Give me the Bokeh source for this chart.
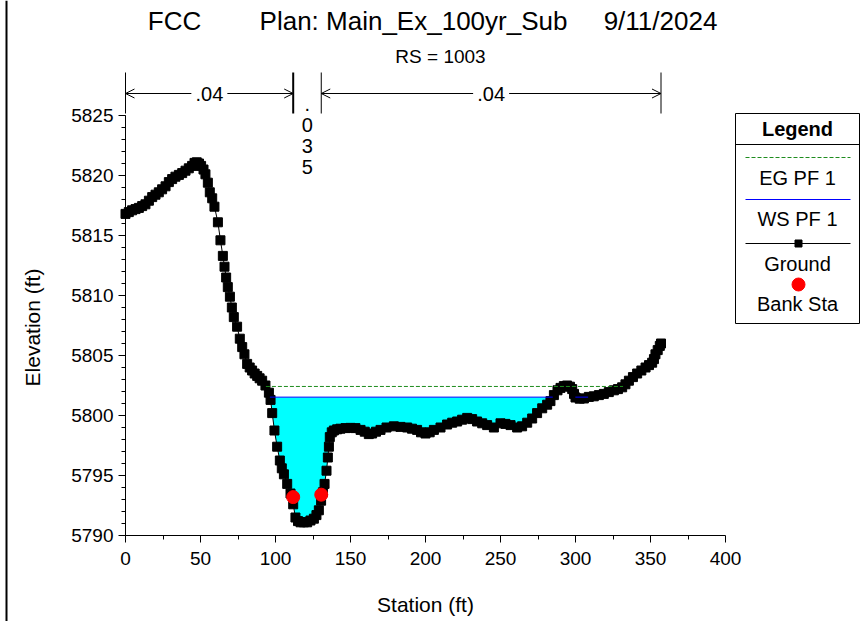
import math
from bokeh.plotting import figure
from bokeh.models import Range1d, FixedTicker, LinearAxis, Arrow, OpenHead
from bokeh.embed import file_html
from bokeh.resources import INLINE
from bokeh.core.properties import value

# ---------------- data ----------------
station = [0.0, 2.2, 4.4, 6.7, 8.9, 11.1, 13.3, 15.6, 17.8, 20.0, 22.2, 24.4, 26.7, 28.9,
           31.1, 33.3, 35.6, 37.8, 40.0, 42.2, 44.4, 46.0, 47.5, 49.0, 50.4, 52.0, 53.3,
           54.9, 56.2, 57.8, 59.3, 61.6, 63.3, 64.9, 66.0, 67.1, 68.2, 69.6, 70.9, 72.2,
           74.4, 76.2, 77.8, 79.3, 81.1, 82.8, 84.4, 86.1, 87.8, 89.4, 91.1, 93.3, 95.6,
           96.7, 97.8, 99.3, 101.1, 102.9, 104.2, 105.6, 107.8, 110.0, 111.8, 113.3, 115.0,
           116.7, 118.9, 121.1, 123.3, 125.6, 127.3, 128.9, 130.4, 131.6, 132.7, 134.0,
           134.9, 135.6, 136.2, 137.5, 138.9, 141.1, 143.3, 146.7, 150.0, 153.3, 156.7,
           159.5, 162.2, 164.4, 167.0, 170.0, 174.0, 178.9, 183.3, 187.8, 191.0, 194.4,
           197.0, 200.0, 202.8, 205.6, 210.0, 214.4, 217.8, 221.1, 224.4, 227.8, 231.1,
           234.4, 237.8, 241.1, 245.6, 250.0, 253.3, 256.7, 261.1, 264.4, 267.8, 271.1,
           274.4, 277.8, 281.1, 283.3, 285.6, 288.0, 290.0, 292.2, 294.4, 296.3, 297.8,
           299.0, 300.0, 302.8, 305.6, 308.9, 312.2, 315.6, 318.9, 322.2, 325.6, 328.3,
           331.1, 333.3, 335.6, 338.3, 341.1, 343.9, 346.7, 349.0, 351.1, 352.3, 353.3,
           354.8, 356.2, 357.0]
elevation = [5816.80, 5816.95, 5817.10, 5817.20, 5817.30, 5817.45, 5817.60, 5817.90, 5818.20,
             5818.40, 5818.60, 5818.85, 5819.10, 5819.45, 5819.70, 5819.90, 5820.05, 5820.20,
             5820.40, 5820.60, 5820.80, 5821.05, 5821.10, 5821.00, 5820.80, 5820.50, 5820.10,
             5819.40, 5818.60, 5818.10, 5817.40, 5816.10, 5814.60, 5813.30, 5812.40, 5811.50,
             5810.70, 5809.90, 5809.00, 5808.20, 5807.40, 5806.40, 5805.70, 5805.10, 5804.30,
             5804.00, 5803.75, 5803.50, 5803.30, 5803.10, 5802.90, 5802.50, 5801.90, 5801.30,
             5800.20, 5798.75, 5797.40, 5796.25, 5795.60, 5795.10, 5794.30, 5793.50, 5792.60,
             5791.50, 5791.20, 5791.10, 5791.10, 5791.10, 5791.25, 5791.40, 5791.70, 5792.10,
             5792.90, 5793.60, 5794.30, 5795.40, 5796.50, 5797.40, 5798.20, 5798.60, 5798.75,
             5798.85, 5798.90, 5798.95, 5798.97, 5798.95, 5798.80, 5798.65, 5798.45, 5798.50,
             5798.65, 5798.80, 5799.00, 5799.10, 5799.05, 5799.00, 5798.90, 5798.80, 5798.60,
             5798.50, 5798.60, 5798.80, 5799.00, 5799.25, 5799.40, 5799.50, 5799.65, 5799.80,
             5799.70, 5799.50, 5799.35, 5799.20, 5799.00, 5799.35, 5799.30, 5799.20, 5799.00,
             5799.10, 5799.40, 5799.75, 5800.20, 5800.60, 5800.90, 5801.20, 5801.70, 5802.10,
             5802.30, 5802.45, 5802.50, 5802.40, 5802.20, 5801.80, 5801.50, 5801.40, 5801.42,
             5801.55, 5801.60, 5801.70, 5801.80, 5801.95, 5802.10, 5802.20, 5802.35, 5802.60,
             5802.90, 5803.20, 5803.50, 5803.75, 5804.00, 5804.20, 5804.40, 5804.70, 5805.10,
             5805.45, 5805.80, 5806.00]
bank_station = [111.8, 130.5]
bank_elevation = [5793.2, 5793.4]
ws_pf1 = 5801.53
eg_pf1 = 5802.42
n_values = [".04", ".035", ".04"]
x_ticks = [0, 50, 100, 150, 200, 250, 300, 350, 400]
x_minor = [25, 75, 125, 175, 225, 275, 325, 375]
y_ticks = [5790, 5795, 5800, 5805, 5810, 5815, 5820, 5825]
y_minor = list(range(5790, 5826))
title_parts = ["FCC", "Plan: Main_Ex_100yr_Sub", "9/11/2024"]
subtitle = "RS = 1003"
x_label = "Station (ft)"
y_label = "Elevation (ft)"
legend_title = "Legend"
legend_labels = ["EG PF 1", "WS PF 1", "Ground", "Bank Sta"]

# ---------------- layout: page pixels -> data ----------------
W, H = 860, 621
X0PX, PXFT = 125.0, 1.5        # station 0 at x=125 px, 1.5 px per ft
Y0PX, PXEL, YBASE = 535.0, 12.0, 5790.0


def X(px):
    return (px - X0PX) / PXFT


def Y(py):
    return YBASE + (Y0PX - py) / PXEL


FONT = "Liberation Sans"
F = value(FONT)

p = figure(width=W, height=H, x_range=Range1d(X(0), X(W)), y_range=Range1d(Y(H), Y(0)),
           output_backend="svg", toolbar_location=None, x_axis_type=None, y_axis_type=None,
           min_border=0, min_border_left=0, min_border_right=0, min_border_top=0,
           min_border_bottom=0, outline_line_color=None,
           background_fill_color="white", border_fill_color="white")

# axes drawn at fixed data locations
xaxis = LinearAxis(fixed_location=YBASE, bounds=(x_ticks[0], x_ticks[-1]),
                   ticker=FixedTicker(ticks=x_ticks, minor_ticks=x_minor))
yaxis = LinearAxis(fixed_location=x_ticks[0], bounds=(y_ticks[0], y_ticks[-1]),
                   ticker=FixedTicker(ticks=y_ticks, minor_ticks=y_minor))
for ax, standoff in ((xaxis, 9), (yaxis, 5)):
    ax.axis_line_color = "black"
    ax.axis_line_width = 1
    ax.major_tick_line_color = "black"
    ax.minor_tick_line_color = "black"
    ax.major_tick_in = 0
    ax.major_tick_out = 7
    ax.minor_tick_in = 0
    ax.minor_tick_out = 4
    ax.major_label_text_font = FONT
    ax.major_label_text_font_size = "19px"
    ax.major_label_text_color = "black"
    ax.major_label_standoff = standoff
p.add_layout(xaxis, "below")
p.add_layout(yaxis, "left")

# left window border line
p.segment(x0=[X(6)], x1=[X(6)], y0=[Y(H)], y1=[Y(0)], line_color="black", line_width=2)

# axis titles
p.text(x=[X(425)], y=[Y(604)], text=[x_label], text_align="center", text_baseline="middle",
       text_font=F, text_font_size="21px", text_color="black")
p.text(x=[X(32)], y=[Y(327)], text=[y_label], angle=math.pi / 2, text_align="center",
       text_baseline="middle", text_font=F, text_font_size="21px", text_color="black")

# chart titles
p.text(x=[X(174), X(413), X(660)], y=[Y(20)] * 3, text=title_parts, text_align="center",
       text_baseline="middle", text_font=F, text_font_size="26px", text_color="black")
p.text(x=[X(440)], y=[Y(56)], text=[subtitle], text_align="center", text_baseline="middle",
       text_font=F, text_font_size="19px", text_color="black")


# ---------------- water surface / energy grade ----------------
def wet_runs(xs, ys, level):
    runs, cur = [], None
    for i in range(len(xs)):
        below = ys[i] < level
        if below:
            if cur is None:
                if i > 0:
                    xc = xs[i - 1] + (level - ys[i - 1]) * (xs[i] - xs[i - 1]) / (ys[i] - ys[i - 1])
                    cur = ([xc], [level])
                else:
                    cur = ([], [])
            cur[0].append(xs[i])
            cur[1].append(ys[i])
        elif cur is not None:
            xc = xs[i - 1] + (level - ys[i - 1]) * (xs[i] - xs[i - 1]) / (ys[i] - ys[i - 1])
            cur[0].append(xc)
            cur[1].append(level)
            runs.append(cur)
            cur = None
    if cur is not None:
        runs.append(cur)
    return runs


ws_runs = wet_runs(station, elevation, ws_pf1)
for rx, ry in ws_runs:
    p.varea(x=rx, y1=ry, y2=[ws_pf1] * len(rx), fill_color="#00FFFF")

# ground
p.line(station, elevation, line_color="black", line_width=1)
p.scatter(station, elevation, marker="square", size=9, fill_color="black", line_color="black")

for rx, ry in ws_runs:
    p.line([rx[0], rx[-1]], [ws_pf1, ws_pf1], line_color="#0000FF", line_width=1)

eg_runs = wet_runs(station, elevation, eg_pf1)
p.line([eg_runs[0][0][0], eg_runs[-1][0][-1]], [eg_pf1, eg_pf1], line_color="#1E8C1E",
       line_width=1, line_dash="4 2")

# bank stations
p.scatter(bank_station, bank_elevation, marker="circle", size=13, fill_color="#FF0000",
          line_color="#FF0000")

# ---------------- Manning's n regions ----------------
n_bounds = [station[0], bank_station[0], bank_station[1], station[-1]]
p.segment(x0=n_bounds, x1=n_bounds, y0=[Y(113)] * 4, y1=[Y(72)] * 4, line_color="black",
          line_width=[1, 2, 1, 1])
ya = Y(93)
half_gap = 18 / PXFT
for i, nv in enumerate(n_values):
    a, b = n_bounds[i], n_bounds[i + 1]
    c = (a + b) / 2
    if (b - a) * PXFT > 80:
        p.add_layout(Arrow(x_start=c - half_gap, y_start=ya, x_end=a, y_end=ya, start=None,
                           end=OpenHead(size=9, line_width=1, line_color="black"),
                           line_color="black", line_width=1))
        p.add_layout(Arrow(x_start=c + half_gap, y_start=ya, x_end=b, y_end=ya, start=None,
                           end=OpenHead(size=9, line_width=1, line_color="black"),
                           line_color="black", line_width=1))
        p.text(x=[c], y=[ya], text=[nv], text_align="center", text_baseline="middle",
               text_font=F, text_font_size="20px", text_color="black")
    else:
        chars = list(nv)
        p.text(x=[c] * len(chars), y=[Y(103 + 21 * k) for k in range(len(chars))], text=chars,
               text_align="center", text_baseline="alphabetic", text_font=F,
               text_font_size="20px", text_color="black")

# ---------------- legend ----------------
lg_l, lg_r, lg_t, lg_b, lg_h = 735, 859, 113, 323, 144
p.quad(left=[X(lg_l)], right=[X(lg_r)], top=[Y(lg_t)], bottom=[Y(lg_b)], fill_color="white",
       line_color="black", line_width=1)
p.segment(x0=[X(lg_l)], x1=[X(lg_r)], y0=[Y(lg_h)], y1=[Y(lg_h)], line_color="black",
          line_width=1)
lcx = (lg_l + lg_r) / 2
p.text(x=[X(lcx)], y=[Y(128)], text=[legend_title], text_align="center", text_baseline="middle",
       text_font=F, text_font_size="20px", text_font_style="bold", text_color="black")
p.line([X(745), X(850)], [Y(157)] * 2, line_color="#1E8C1E", line_width=1, line_dash="4 2")
p.line([X(745), X(850)], [Y(199)] * 2, line_color="#0000FF", line_width=1)
p.line([X(745), X(850)], [Y(243)] * 2, line_color="black", line_width=1)
p.scatter([X(798)], [Y(243)], marker="square", size=7, fill_color="black", line_color="black")
p.scatter([X(798)], [Y(284)], marker="circle", size=13, fill_color="#FF0000", line_color="#FF0000")
p.text(x=[X(lcx)] * 4, y=[Y(177), Y(218), Y(263), Y(303)], text=legend_labels,
       text_align="center", text_baseline="middle", text_font=F, text_font_size="20px",
       text_color="black")

open("out.html", "w").write(file_html(p, INLINE))
